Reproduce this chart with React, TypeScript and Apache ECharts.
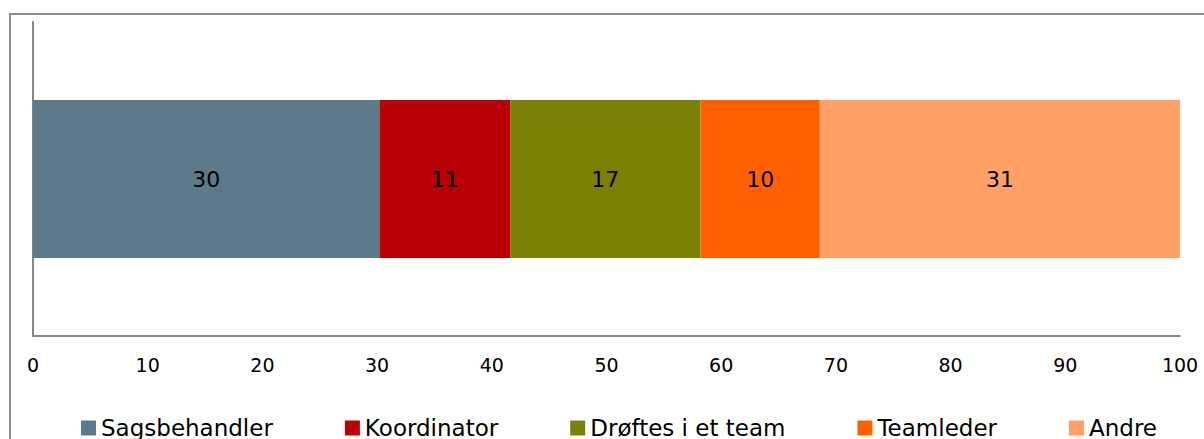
import React, { useEffect, useRef } from "react";
import * as echarts from "echarts";

const categories = ["Ansvar"];
const seriesNames = ["Sagsbehandler", "Koordinator", "Drøftes i et team", "Teamleder", "Andre"];
const seriesValues = [30.2, 11.4, 16.6, 10.4, 31.4];
const seriesColors = ["#5d7a8b", "#b80007", "#7b8104", "#ff6100", "#ffa066"];
const FONT = "DejaVu Sans, Verdana, sans-serif";

export default function App() {
  const ref = useRef<HTMLDivElement>(null);
  useEffect(() => {
    if (!ref.current) return;
    const chart = echarts.init(ref.current, null, { renderer: "svg" });
    chart.setOption({
      animation: false,
      backgroundColor: "#ffffff",
      textStyle: { fontFamily: FONT },
      graphic: [
        {
          type: "rect",
          silent: true,
          z: 100,
          shape: { x: 10, y: 14, width: 1400, height: 800 },
          style: { fill: "none", stroke: "#8c8c8c", lineWidth: 2 },
        },
      ],
      grid: { left: 33, top: 22, right: 24, bottom: 103, containLabel: false },
      xAxis: {
        type: "value",
        min: 0,
        max: 100,
        interval: 10,
        splitLine: { show: false },
        axisTick: { show: false },
        axisLine: { show: true, lineStyle: { color: "#868686", width: 2 } },
        axisLabel: { fontSize: 19, color: "#000", margin: 19, fontFamily: FONT },
      },
      yAxis: {
        type: "category",
        data: categories,
        axisTick: { show: false },
        axisLabel: { show: false },
        axisLine: { show: true, lineStyle: { color: "#868686", width: 2 } },
      },
      legend: {
        left: 81,
        top: 416,
        padding: 0,
        itemWidth: 15,
        itemHeight: 15,
        itemGap: 72,
        icon: "rect",
        textStyle: { fontSize: 23, color: "#000", fontFamily: FONT, lineHeight: 24, padding: [0, 0, 0, 0] },
        data: seriesNames,
      },
      series: seriesNames.map((name, i) => ({
        name,
        type: "bar",
        stack: "total",
        barWidth: 158,
        data: [seriesValues[i]],
        itemStyle: { color: seriesColors[i] },
        label: {
          show: true,
          position: "inside",
          color: "#000",
          fontSize: 22,
          fontFamily: FONT,
          formatter: (p: any) => String(Math.round(p.value)),
        },
      })),
    });
    return () => chart.dispose();
  }, []);
  return (
    <div
      ref={ref}
      style={{ position: "absolute", left: 0, top: 0, width: 1204, height: 439 }}
    />
  );
}
